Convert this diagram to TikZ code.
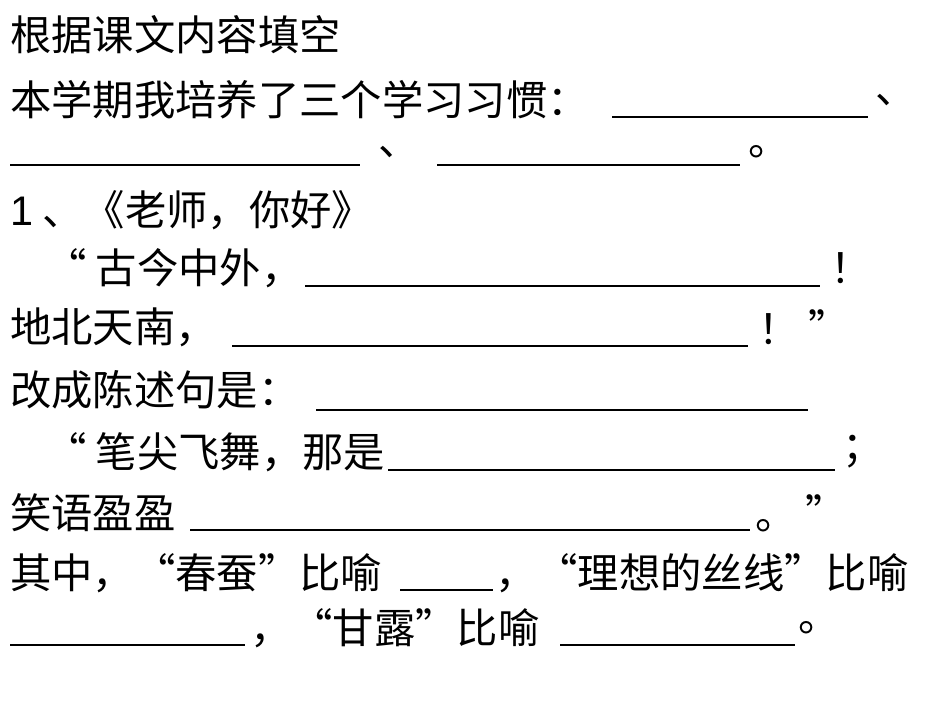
\documentclass[tikz,border=0pt]{standalone}
\usepackage{fontspec}
\setmainfont{Liberation Sans}
\newfontfamily\cjk{Noto Sans CJK SC}
\begin{document}
\begin{tikzpicture}[x=0.75pt,y=-0.75pt,
  txt/.style={anchor=west,inner sep=0pt,font=\fontsize{31}{34}\selectfont\cjk},
  ul/.style={line width=1.5pt}]
\useasboundingbox (0,0) rectangle (950,713);
\node[txt] (l1) at (10,35) {根据课文内容填空};
\node[txt] (l2) at (10,100) {本学期我培养了三个学习习惯：};
\draw[ul] (612,117) -- (868,117);
\node[txt] (d2) at (875,100) {、};
\draw[ul] (10,165) -- (360,165);
\node[txt] (d3) at (378,152) {、};
\draw[ul] (437,165) -- (740,165);
\node[txt] (p3) at (748,152) {。};
\node[txt] (l4) at (10,210) {{\rmfamily 1} 、《老师，你好》};
\node[txt] (l5) at (45,268) {“ 古今中外，};
\draw[ul] (305,286) -- (820,286);
\node[txt] (e5) at (830,268) {！};
\node[txt] (l6) at (10,327) {地北天南，};
\draw[ul] (232,346) -- (748,346);
\node[txt] (e6) at (758,327) {！ ”};
\node[txt] (l7) at (10,390) {改成陈述句是：};
\draw[ul] (316,410) -- (808,410);
\node[txt] (l8) at (45,452) {“ 笔尖飞舞，那是};
\draw[ul] (388,470) -- (835,470);
\node[txt] (e8) at (842,452) {；};
\node[txt] (l9) at (10,513) {笑语盈盈};
\draw[ul] (190,530) -- (750,530);
\node[txt] (e9) at (755,513) {。 ”};
\node[txt] (l10a) at (10,573) {其中，“春蚕”比喻};
\draw[ul] (400,590) -- (493,590);
\node[txt] (l10b) at (495,573) {，“理想的丝线”比喻};
\draw[ul] (10,645) -- (245,645);
\node[txt] (l11) at (250,628) {，“甘露”比喻};
\draw[ul] (560,645) -- (795,645);
\node[txt] (e11) at (798,628) {。};
\end{tikzpicture}
\end{document}
